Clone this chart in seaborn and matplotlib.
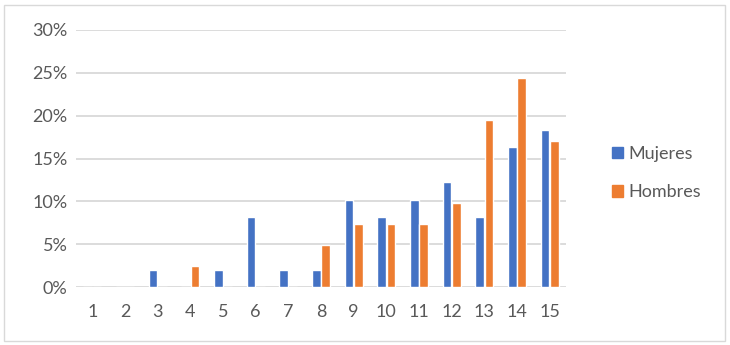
import pandas as pd
import matplotlib.pyplot as plt
import seaborn as sns
from matplotlib.patches import Rectangle, Patch
from matplotlib.ticker import PercentFormatter

# categorias (eje x) y porcentajes
categorias = [str(i) for i in range(1, 16)]
mujeres = [0, 0, 2.04, 0, 2.04, 8.16, 2.04, 2.04, 10.20, 8.16, 10.20, 12.24, 8.16, 16.33, 18.37]
hombres = [0, 0, 0, 2.44, 0, 0, 0, 4.88, 7.32, 7.32, 7.32, 9.76, 19.51, 24.39, 17.07]
series = ['Mujeres', 'Hombres']
colores = ['#4472C4', '#ED7D31']

df = pd.DataFrame({
    'cat': categorias * 2,
    'valor': mujeres + hombres,
    'serie': [series[0]] * len(categorias) + [series[1]] * len(categorias),
})

sns.set_style('white')
plt.rcParams['font.family'] = ['Lato', 'DejaVu Sans']

fig = plt.figure(figsize=(7.3, 3.45), dpi=100)
ax = fig.add_axes([76 / 730, 1 - 287 / 345, 490 / 730, 257 / 345])

sns.barplot(data=df, x='cat', y='valor', hue='serie', palette=colores,
            width=0.58, gap=0.1, ax=ax, legend=False, saturation=1)

ax.set_ylim(0, 30)
ax.set_yticks(range(0, 31, 5))
ax.yaxis.set_major_formatter(PercentFormatter(decimals=0))
ax.grid(axis='y', color='#D9D9D9', linewidth=1.3)
ax.set_axisbelow(True)
for s in ax.spines.values():
    s.set_visible(False)
ax.set_xlabel('')
ax.set_ylabel('')
ax.tick_params(axis='both', length=0, labelsize=13, labelcolor='#595959')
ax.tick_params(axis='x', pad=12)
ax.tick_params(axis='y', pad=6)

handles = [Patch(color=c, label=s) for s, c in zip(series, colores)]
fig.legend(handles=handles, loc='center left', bbox_to_anchor=(596 / 730, 1 - 173 / 345),
           frameon=False, fontsize=13, labelcolor='#595959', handlelength=0.6,
           handleheight=0.6, handletextpad=0.3, labelspacing=1.25)

# marco exterior
fig.patches.append(Rectangle((4 / 730, 4 / 345), 721 / 730, 336 / 345,
                             transform=fig.transFigure, fill=False,
                             edgecolor='#D9D9D9', linewidth=1))

fig.savefig('out.png', dpi=100)
